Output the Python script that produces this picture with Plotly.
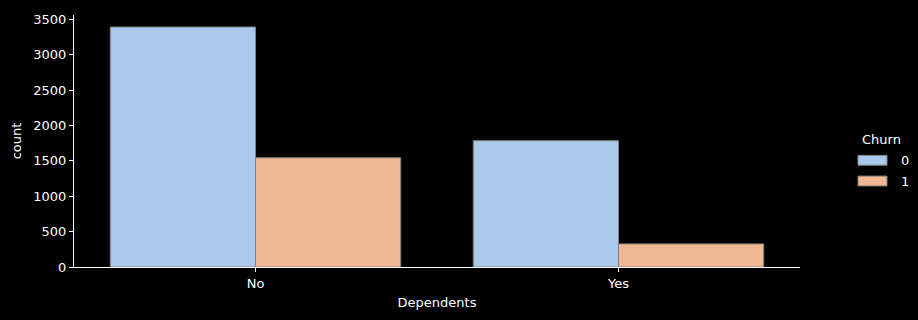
import plotly.graph_objects as go

categories = ["No", "Yes"]
churn_labels = ["0", "1"]
counts_churn0 = [3390, 1784]
counts_churn1 = [1543, 326]

colors = ["#abc9ec", "#f0b894"]
edge = "#808080"
font = "DejaVu Sans"

W, H = 918, 320
L, R, T, B = 74, 118, 12, 53
pw, ph = W - L - R, H - T - B

fig = go.Figure()
for name, vals, col in zip(churn_labels, [counts_churn0, counts_churn1], colors):
    fig.add_trace(go.Bar(x=categories, y=vals, name=name, marker=dict(color=col, line=dict(color=edge, width=1)),
                         showlegend=False))

fig.update_layout(
    width=W, height=H, margin=dict(l=L, r=R, t=T, b=B),
    paper_bgcolor="black", plot_bgcolor="black",
    font=dict(family=font, size=13, color="white"),
    barmode="group", bargap=0.2, bargroupgap=0,
    xaxis=dict(range=[-0.5, 1.5], showline=True, linecolor="white", linewidth=1,
               ticks="outside", ticklen=4, tickcolor="white", showgrid=False, zeroline=False,
               title=dict(text="Dependents", standoff=8, font=dict(size=13, color="white"))),
    yaxis=dict(range=[0, 3559.5], showline=True, linecolor="white", linewidth=1,
               ticks="outside", ticklen=4, tickcolor="white", showgrid=False, zeroline=False,
               tickvals=[0, 500, 1000, 1500, 2000, 2500, 3000, 3500],
               title=dict(text="count", standoff=8, font=dict(size=13, color="white"))),
)

def px_x(p):
    return (p - L) / pw

def px_y(p):
    return (H - B - p) / ph

# legend
fig.add_annotation(text="Churn", x=px_x(882), y=px_y(138), xref="paper", yref="paper",
                   showarrow=False, xanchor="center", yanchor="middle", font=dict(size=13, color="white"))
for i, (name, col) in enumerate(zip(churn_labels, colors)):
    yc = 159 + 21 * i
    fig.add_shape(type="rect", xref="paper", yref="paper", x0=px_x(858), x1=px_x(887),
                  y0=px_y(yc - 5), y1=px_y(yc + 5), fillcolor=col, line=dict(color=edge, width=1))
    fig.add_annotation(text=name, x=px_x(899), y=px_y(yc), xref="paper", yref="paper",
                       showarrow=False, xanchor="left", yanchor="middle", font=dict(size=13, color="white"))

fig.write_html("out.html")
